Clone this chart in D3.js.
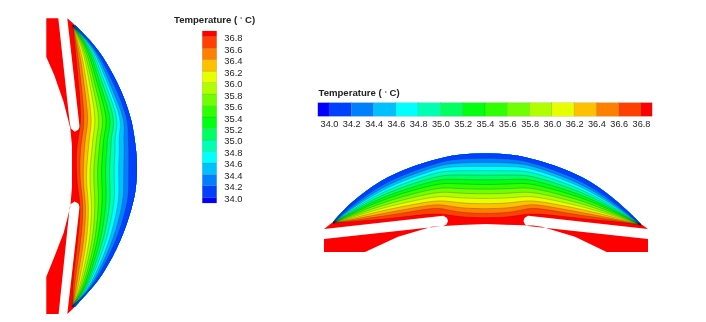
<!DOCTYPE html>
<html>
<head>
<meta charset="utf-8">
<script src="https://cdn.jsdelivr.net/npm/d3@7"></script>
<style>
html, body { margin: 0; padding: 0; background: #fff; }
svg { display: block; filter: blur(0.35px); }
text { font-family: "Liberation Sans", Arial, sans-serif; fill: #222; }
</style>
</head>
<body>
<script>
var width = 706,
    height = 322;

//contour levels, hot to cold
var levels = [36.8, 36.6, 36.4, 36.2, 36.0, 35.8, 35.6, 35.4, 35.2, 35.0, 34.8, 34.6, 34.4, 34.2, 34.0];

//colour bar cells, low to high (first and last are the half cells)
var bandEdges = [33.9, 34.0, 34.2, 34.4, 34.6, 34.8, 35.0, 35.2, 35.4, 35.6, 35.8, 36.0, 36.2, 36.4, 36.6, 36.8, 36.9];
var bandColors = ["#0000ff", "#0040ff", "#0080ff", "#00c0ff", "#00ffff", "#00ffb0", "#00ff60", "#00ff10",
                  "#30ff00", "#70ff00", "#b0ff00", "#e8ff00", "#ffc000", "#ff8000", "#ff4000", "#ff0000"];

//left panel: position along the chord, outer wall depth, then depth of each contour at that position
var leftStations = [-141, -121, -106, -76, -46, -31, -16, 4, 24, 39, 74, 109, 125, 141];
var leftOuter = [29, 48.5, 59, 75.5, 85.5, 87.7, 90, 91, 89.5, 86.5, 75.5, 56.5, 43, 28.5];
var leftContours = [
    [26.5, 26.5, 26.5, 26.5, 26.5, 26.5, 26.5, 26.5, 26.5, 26.5, 26.5, 26.5, 26.5, 26.5, 28.7],
    [28.5, 30, 31.5, 33, 34.7, 36, 37.5, 39, 40.5, 41.8, 43, 44.3, 45.5, 46.8, 48.2],
    [30, 32.3, 34.7, 36.7, 39, 40.7, 42.7, 44.7, 46.7, 48.3, 50.3, 52, 54, 55.7, 58.7],
    [33, 35.5, 38.5, 41.5, 44.5, 47.3, 50, 52.8, 55.5, 58.5, 61.3, 64, 66.5, 71, 75.2],
    [35, 38.5, 42.5, 46, 50, 54, 58, 62, 66, 69.5, 72.8, 76, 79, 82, 85.2],
    [32.3, 36, 39.3, 43.3, 46.7, 50.3, 54, 57.3, 61, 64.7, 68.3, 72.3, 77.3, 81.7, 87.4],
    [30, 34, 38, 42, 45.7, 49.3, 53, 56.7, 60.7, 64.7, 69, 73.3, 78, 82.7, 89.7],
    [30, 33.3, 36.7, 40, 43.3, 47, 50.7, 54.7, 58.7, 62.7, 67.3, 72, 77.3, 82.3, 90.7],
    [31.3, 34.7, 37.3, 40.5, 44, 48, 52, 56, 60, 64, 68.5, 73, 77.5, 82.5, 89.2],
    [34.7, 37.3, 40, 42.7, 45.7, 49, 52.3, 56, 59.7, 63.7, 67.7, 72, 76.3, 81, 86.2],
    [31.7, 35, 38, 41, 44, 46.7, 49.3, 52, 55, 57.7, 60.7, 64, 67.3, 70.7, 75.2],
    [27, 29.3, 31.7, 34, 36, 38, 40, 41.8, 43.5, 45.2, 47, 49, 51, 53, 56.2],
    [26.5, 28, 29.5, 31, 32.3, 33.5, 34.7, 36, 37.2, 38.3, 39.3, 40.3, 41.3, 42, 42.7],
    [26, 26, 26, 26, 26, 26, 26, 26, 26, 26, 26, 26, 26, 26, 28.2]
];
//left panel solid part, goes round the two slots
var leftWall = [[-148, 0], [-148, 12], [-44.3, 23.3], [-38, 24.5], [-34.5, 28.3], [-36.5, 32], [-39.3, 33.3],
    [-148, 21], [-141, 29], [0, 54], [141, 28.5], [148, 21], [40.7, 33.3], [37.5, 32], [35.5, 28.3], [38, 24.5],
    [42, 23.3], [148, 12.3], [148, 0], [110.7, 0], [91, 8], [67, 17.3], [40.7, 24], [20.7, 25.7], [-20, 25.7],
    [-38, 24], [-64.3, 17.3], [-91, 8], [-109.3, 0]];

//right panel, same idea
var rightStations = [-152, -135, -105, -75, -50, -38, -25, 0, 25, 38, 50, 75, 105, 135, 156];
var rightOuter = [30, 49, 72, 85, 92.5, 95.5, 97.7, 99, 97.7, 95.5, 92.5, 85, 72, 49, 28];
var rightContours = [
    [29, 29, 29, 29, 29, 29, 29, 29, 29, 29, 29, 29, 29, 29, 29.7],
    [30, 31, 32, 33, 34, 35, 36.2, 37.3, 38.5, 39.7, 41, 42.2, 43.5, 45.2, 48.7],
    [32.5, 35.5, 38, 41, 43.5, 46, 48.7, 51.5, 54, 56.5, 59, 61.5, 64, 67, 71.7],
    [36, 40, 43.5, 47, 50.5, 54, 57.5, 61, 64.2, 67.5, 70.7, 74, 76.8, 80, 84.7],
    [38.5, 44.5, 48, 51.5, 55.5, 59.5, 63.5, 67.5, 71.5, 75.2, 79, 82.3, 85.2, 88.3, 92.2],
    [37.5, 42.5, 46.5, 51, 55.5, 60, 64.4, 68.8, 73, 77, 81, 84.8, 88, 91.5, 95.2],
    [35, 39.5, 44, 49, 54, 58.7, 63.2, 68, 72.5, 77, 81.3, 85.5, 89.2, 93, 97.4],
    [34, 38.3, 43, 48, 53.3, 58, 62.7, 67.3, 72, 76.7, 81.3, 85.7, 89.7, 94, 98.7],
    [35, 39.5, 44, 49, 54, 58.7, 63.2, 68, 72.5, 77, 81.3, 85.5, 89.2, 93, 97.4],
    [37.5, 42.5, 46.5, 51, 55.5, 60, 64.4, 68.8, 73, 77, 81, 84.8, 88, 91.5, 95.2],
    [38.5, 44.5, 48, 51.5, 55.5, 59.5, 63.5, 67.5, 71.5, 75.2, 79, 82.3, 85.2, 88.3, 92.2],
    [36, 40, 43.5, 47, 50.5, 54, 57.5, 61, 64.2, 67.5, 70.7, 74, 76.8, 80, 84.7],
    [32.5, 35.5, 38, 41, 43.5, 46, 48.7, 51.5, 54, 56.5, 59, 61.5, 64, 67, 71.7],
    [30, 31, 32, 33, 34, 35, 36.2, 37.3, 38.5, 39.7, 41, 42.2, 43.5, 45.2, 48.7],
    [27, 27, 27, 27, 27, 27, 27, 27, 27, 27, 27, 27, 27, 27, 27.7]
];
var rightWall = [[-161, 23], [-152, 30], [0, 62], [156, 28], [163, 23], [43, 36.3], [39.5, 34], [38.5, 31], [40, 27.5],
    [43, 26], [163, 13], [163, 0], [121.7, 0], [90, 15.3], [56.7, 25.3], [48, 26.5], [30, 27], [1, 28], [-25, 27],
    [-45, 25.7], [-53.3, 25.3], [-87, 15.3], [-120, 0], [-161, 0], [-161, 13], [-41.7, 26], [-38.5, 27.5], [-37, 31],
    [-38, 34], [-41.7, 36.3]];

var tickValues = [34.0, 34.2, 34.4, 34.6, 34.8, 35.0, 35.2, 35.4, 35.6, 35.8, 36.0, 36.2, 36.4, 36.6, 36.8];


//DOM init
var svg = d3.select("body")
    .append("svg")
    .attr("width", width)
    .attr("height", height);

//colour of the band just below a temperature
var bandColor = d3.scaleThreshold()
    .domain(bandEdges.slice(1, -1))
    .range(bandColors);

//panel scales
var leftAlong = d3.scaleLinear().domain([-148, 148]).range([18.3, 314]),
    leftDepth = d3.scaleLinear().domain([0, 91]).range([46.3, 137.3]),
    rightAlong = d3.scaleLinear().domain([-161, 163]).range([324, 648]),
    rightDepth = d3.scaleLinear().domain([0, 100]).range([252, 152]);

function contourFill(level) {
    return bandColor(level - 0.1);
}

//left panel is drawn on its side, along = y and depth = x
var leftG = svg.append("g");

leftG.append("path")
    .datum(leftWall)
    .attr("d", d3.line()
        .x(function(d) { return leftDepth(d[1]); })
        .y(function(d) { return leftAlong(d[0]); }))
    .style("fill", "#ff0000");

levels.forEach(function(level, k) {
    var area = d3.area()
        .curve(d3.curveBasis)
        .y(function(d) { return leftAlong(d); })
        .x0(function(d, i) { return leftDepth(leftContours[i][k]); })
        .x1(function(d, i) { return leftDepth(leftOuter[i]); });

    leftG.append("path")
        .datum(leftStations)
        .attr("d", area)
        .style("fill", contourFill(level));
});

levels.slice(0, -1).forEach(function(level, k) {
    var line = d3.line()
        .curve(d3.curveBasis)
        .y(function(d) { return leftAlong(d); })
        .x(function(d, i) { return leftDepth(leftContours[i][k]); });

    leftG.append("path")
        .datum(leftStations)
        .attr("d", line)
        .style("fill", "none")
        .style("stroke", "#000")
        .style("stroke-opacity", 0.4)
        .style("stroke-width", 0.5);
});

//right panel
var rightG = svg.append("g");

rightG.append("path")
    .datum(rightWall)
    .attr("d", d3.line()
        .x(function(d) { return rightAlong(d[0]); })
        .y(function(d) { return rightDepth(d[1]); }))
    .style("fill", "#ff0000");

levels.forEach(function(level, k) {
    var area = d3.area()
        .curve(d3.curveBasis)
        .x(function(d) { return rightAlong(d); })
        .y0(function(d, i) { return rightDepth(rightContours[i][k]); })
        .y1(function(d, i) { return rightDepth(rightOuter[i]); });

    rightG.append("path")
        .datum(rightStations)
        .attr("d", area)
        .style("fill", contourFill(level));
});

levels.slice(0, -1).forEach(function(level, k) {
    var line = d3.line()
        .curve(d3.curveBasis)
        .x(function(d) { return rightAlong(d); })
        .y(function(d, i) { return rightDepth(rightContours[i][k]); });

    rightG.append("path")
        .datum(rightStations)
        .attr("d", line)
        .style("fill", "none")
        .style("stroke", "#000")
        .style("stroke-opacity", 0.4)
        .style("stroke-width", 0.5);
});

//colour bars
var cells = d3.range(bandColors.length);

var barY = d3.scaleLinear().domain([34, 36.8]).range([197.3, 36.7]),
    barX = d3.scaleLinear().domain([34, 36.8]).range([329, 641]);

svg.append("g").selectAll("rect")
    .data(cells)
    .enter().append("rect")
        .attr("x", 202.3)
        .attr("width", 14.4)
        .attr("y", function(i) { return barY(bandEdges[i + 1]); })
        .attr("height", function(i) { return barY(bandEdges[i]) - barY(bandEdges[i + 1]); })
        .style("fill", function(i) { return bandColors[i]; })
        .style("stroke", "#555")
        .style("stroke-opacity", 0.35)
        .style("stroke-width", 0.4);

svg.append("g").selectAll("rect")
    .data(cells)
    .enter().append("rect")
        .attr("y", 102.7)
        .attr("height", 13.6)
        .attr("x", function(i) { return barX(bandEdges[i]); })
        .attr("width", function(i) { return barX(bandEdges[i + 1]) - barX(bandEdges[i]); })
        .style("fill", function(i) { return bandColors[i]; })
        .style("stroke", "#555")
        .style("stroke-opacity", 0.35)
        .style("stroke-width", 0.4);

var axisV = svg.append("g")
    .attr("transform", "translate(216.7,1)")
    .call(d3.axisRight(barY).tickValues(tickValues).tickFormat(d3.format(".1f")).tickSize(0).tickPadding(7.5));
axisV.select(".domain").remove();
axisV.selectAll("text").style("font-size", "9.4px").style("font-family", null);

var axisH = svg.append("g")
    .attr("transform", "translate(0,116.3)")
    .call(d3.axisBottom(barX).tickValues(tickValues).tickFormat(d3.format(".1f")).tickSize(0).tickPadding(4));
axisH.select(".domain").remove();
axisH.selectAll("text").style("font-size", "9.2px").style("font-family", null);

//bar titles
function barTitle(x, y) {
    var t = svg.append("text")
        .attr("x", x)
        .attr("y", y)
        .style("font-size", "9.6px")
        .style("font-weight", "bold");
    t.append("tspan").text("Temperature ( ");
    t.append("tspan").text("°").attr("dy", -1.5).style("font-size", "6px").style("font-weight", "normal");
    t.append("tspan").text(" C)").attr("dy", 1.5);
}

barTitle(174, 22.5);
barTitle(318.5, 96);
</script>
</body>
</html>
